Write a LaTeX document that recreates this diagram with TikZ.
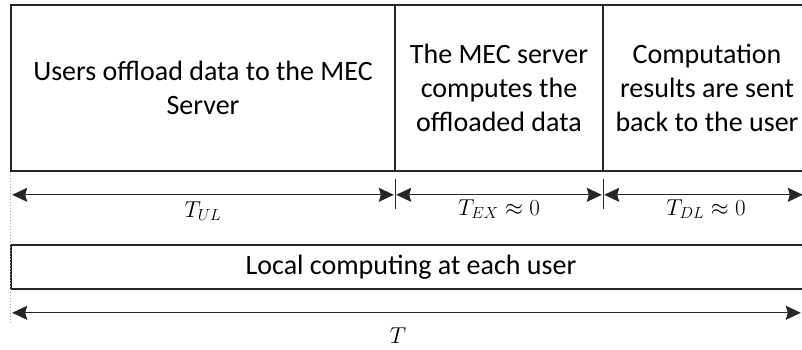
\RequirePackage{fix-cm}
\documentclass[tikz,border=0pt]{standalone}
\usepackage{fontspec}
\setmainfont{Carlito}
\usetikzlibrary{arrows.meta}
\newcommand{\linecol}{black!85}
\newcommand{\guidecol}{black!35}
\tikzset{
    cell/.style={draw=\linecol, line width=1.6pt, minimum height=166pt, inner sep=0pt, align=center, font=\fontsize{28}{34}\selectfont},
    timespan/.style={{Stealth[length=15pt,width=14pt,inset=2pt]}-{Stealth[length=15pt,width=14pt,inset=2pt]}, draw=\linecol, line width=1.3pt, shorten <=2pt, shorten >=2pt},
    tick/.style={draw=\linecol, line width=1.2pt},
    lbl/.style={font=\fontsize{23}{27}\selectfont},
}
\begin{document}
\begin{tikzpicture}[x=1pt, y=-1pt]

    \useasboundingbox (0, 0) rectangle (802, 349);

    \node[cell, minimum width=384pt] (ul) at (203, 88) {Users offload data to the MEC\\Server};
    \node[cell, minimum width=208pt] (ex) at (499, 88) {The MEC server\\computes the\\offloaded data};
    \node[cell, minimum width=208pt] (dl) at (707, 88) {Computation\\results are sent\\back to the user};

    \node[cell, minimum width=800pt, minimum height=44pt] (local) at (411, 267) {Local computing at each user};

    \draw[timespan] ([yshift=-23pt]ul.south west) -- ([yshift=-23pt]ul.south east);
    \draw[timespan] ([yshift=-23pt]ex.south west) -- ([yshift=-23pt]ex.south east);
    \draw[timespan] ([yshift=-23pt]dl.south west) -- ([xshift=-7pt, yshift=-23pt]dl.south east);
    \draw[tick] ([yshift=-7pt]ul.south east) -- ([yshift=-37pt]ul.south east);
    \draw[tick] ([yshift=-7pt]ex.south east) -- ([yshift=-37pt]ex.south east);

    \node[lbl] (tul) at (203, 211) {$T_{UL}$};
    \node[lbl] (tex) at (499, 209) {$T_{EX} \approx 0$};
    \node[lbl] (tdl) at (706, 209) {$T_{DL} \approx 0$};

    \draw[timespan] ([yshift=-23pt]local.south west) -- ([xshift=-9pt, yshift=-23pt]local.south east);
    \node[lbl] (tall) at (398, 336) {$T$};

    \draw[draw=\guidecol, dotted, line width=1pt] (ul.south west) -- ([yshift=-151pt]ul.south west);

\end{tikzpicture}
\end{document}
